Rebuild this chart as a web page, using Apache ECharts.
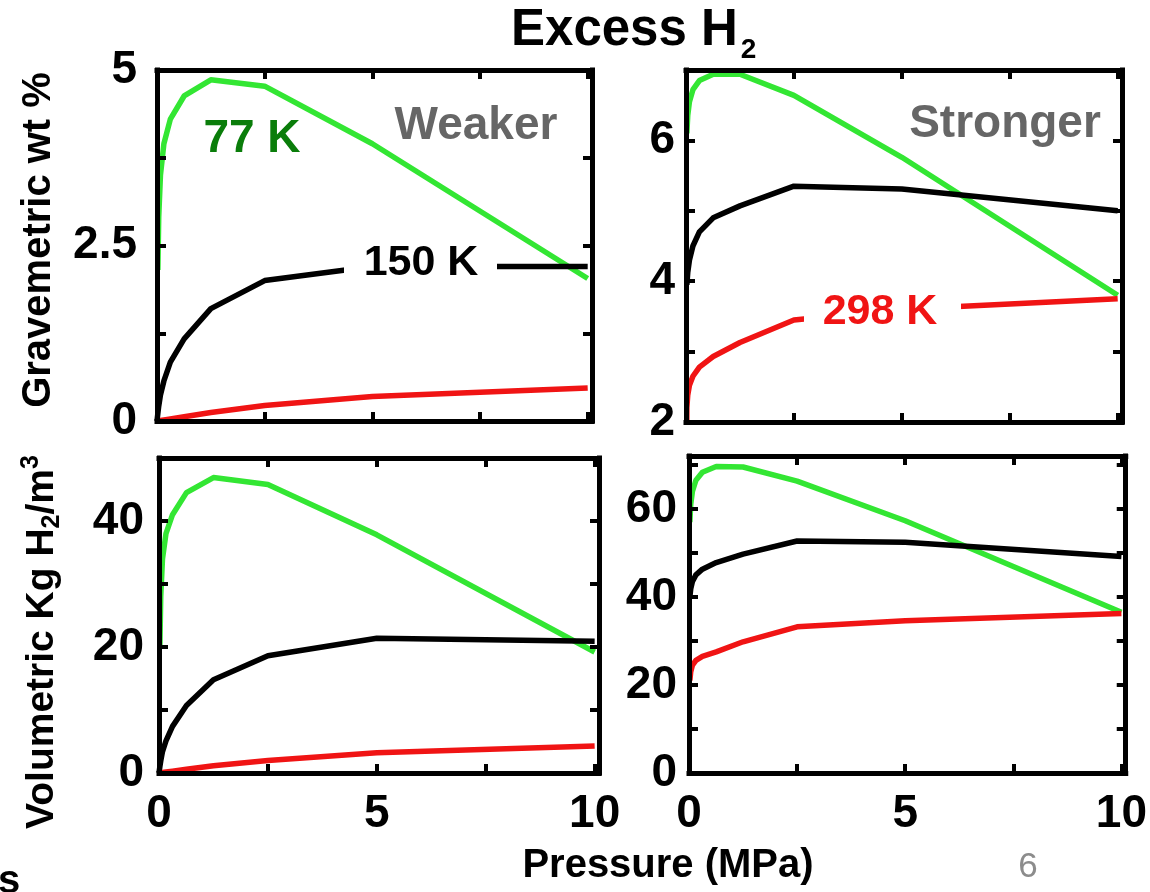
<!DOCTYPE html>
<html>
<head>
<meta charset="utf-8">
<script src="https://cdn.jsdelivr.net/npm/echarts@6/dist/echarts.min.js"></script>
<style>
  html, body { margin: 0; padding: 0; background: #fff; }
  #chart { width: 1150px; height: 892px; }
</style>
</head>
<body>
<div id="chart"></div>
<script>
// Pressure grid (MPa) shared by every isotherm
const pressure = [0, 0.02, 0.04, 0.08, 0.16, 0.31, 0.63, 1.25, 2.5, 5, 10];

// Gravimetric excess uptake (wt %), weaker-binding framework
const gravWeak77  = [null, 2.15, 2.9, 3.5, 3.95, 4.3, 4.63, 4.86, 4.77, 3.95, 2.03];
const gravWeak150 = [0, 0.11, 0.21, 0.37, 0.57, 0.84, 1.17, 1.6, 2.0, 2.2, 2.2];
const gravWeak298 = [0, 0.002, 0.004, 0.008, 0.015, 0.03, 0.06, 0.12, 0.22, 0.35, 0.47];

// Gravimetric excess uptake (wt %), stronger-binding framework
const gravStrong77  = [null, 6.1, 6.35, 6.55, 6.72, 6.85, 6.94, 6.94, 6.64, 5.76, 3.8];
const gravStrong150 = [null, 3.95, 4.12, 4.3, 4.5, 4.7, 4.9, 5.07, 5.35, 5.31, 5.0];
const gravStrong298 = [0, 2.2, 2.38, 2.52, 2.65, 2.78, 2.93, 3.13, 3.45, 3.6, 3.75];

// Volumetric excess uptake (kg H2 / m3), weaker-binding framework
const volWeak77  = [null, 20, 28, 34, 38, 41, 44.5, 46.9, 45.8, 37.8, 19.2];
const volWeak150 = [0, 1.0, 1.9, 3.4, 5.1, 7.4, 10.7, 14.8, 18.6, 21.4, 20.9];
const volWeak298 = [0, 0.02, 0.04, 0.08, 0.15, 0.3, 0.6, 1.15, 2.0, 3.2, 4.3];

// Volumetric excess uptake (kg H2 / m3), stronger-binding framework
const volStrong77  = [null, 57, 61, 64, 66.5, 68.3, 69.6, 69.5, 66.3, 57.3, 36.5];
const volStrong150 = [null, 40, 41.8, 43.5, 45, 46.3, 47.8, 49.7, 52.7, 52.4, 49.2];
const volStrong298 = [null, 21, 23, 24.5, 25.6, 26.5, 27.5, 29.8, 33.2, 34.6, 36.2];

// Labelled tick values
const pressureTicks   = [0, 5, 10];
const gravWeakTicks   = [0, 2.5, 5];
const gravStrongTicks = [2, 4, 6];
const volWeakTicks    = [0, 20, 40];
const volStrongTicks  = [0, 20, 40, 60];

const FONT = '"Liberation Sans", Arial, Helvetica, sans-serif';
const LINE_COLORS = ['#33e633', '#000000', '#f01414'];
const X_MAX = 10.1;

const panels = [
  { left: 157, top: 70,  width: 435, height: 351, yMin: 0, yMax: 5,  yStep: 1.25, yTicks: gravWeakTicks,   yMargin: 20, xTicks: null,
    lines: [gravWeak77, gravWeak150, gravWeak298] },
  { left: 686, top: 70,  width: 436, height: 352, yMin: 2, yMax: 7,  yStep: 1,    yTicks: gravStrongTicks, yMargin: 11, xTicks: null,
    lines: [gravStrong77, gravStrong150, gravStrong298] },
  { left: 159, top: 458, width: 440, height: 315, yMin: 0, yMax: 50, yStep: 10,   yTicks: volWeakTicks,    yMargin: 15, xTicks: pressureTicks,
    lines: [volWeak77, volWeak150, volWeak298] },
  { left: 689, top: 456, width: 442, height: 317, yMin: 0, yMax: 72, yStep: 10,   yTicks: volStrongTicks,  yMargin: 12, xTicks: pressureTicks,
    lines: [volStrong77, volStrong150, volStrong298] }
];

const tickFont = { color: '#000', fontSize: 46, fontWeight: 'bold', fontFamily: FONT };
const frameLine = { color: '#000', width: 5, cap: 'square' };
const innerTick = { show: true, inside: true, length: 9, lineStyle: { color: '#000', width: 4 } };

const grids = [], xAxes = [], yAxes = [], series = [];

panels.forEach((p, i) => {
  grids.push({ left: p.left, top: p.top, width: p.width, height: p.height });

  const xCommon = {
    type: 'value', gridIndex: i, min: 0, max: X_MAX, interval: 2.5, z: 10,
    axisLine: { show: true, onZero: false, lineStyle: frameLine },
    axisTick: innerTick, splitLine: { show: false }
  };
  xAxes.push(Object.assign({}, xCommon, {
    position: 'bottom',
    axisLabel: Object.assign({
      show: !!p.xTicks, margin: 18,
      formatter: v => (p.xTicks && p.xTicks.includes(v)) ? String(v) : ''
    }, tickFont)
  }));
  xAxes.push(Object.assign({}, xCommon, { position: 'top', axisLabel: { show: false } }));

  const yCommon = {
    type: 'value', gridIndex: i, min: p.yMin, max: p.yMax, interval: p.yStep, z: 10,
    axisLine: { show: true, onZero: false, lineStyle: frameLine },
    axisTick: innerTick, splitLine: { show: false }
  };
  yAxes.push(Object.assign({}, yCommon, {
    position: 'left',
    axisLabel: Object.assign({
      margin: p.yMargin,
      formatter: v => p.yTicks.includes(v) ? String(v) : ''
    }, tickFont)
  }));
  yAxes.push(Object.assign({}, yCommon, { position: 'right', axisLabel: { show: false } }));

  p.lines.forEach((vals, j) => {
    const data = [];
    vals.forEach((v, k) => { if (v !== null) data.push([pressure[k], v]); });
    series.push({
      type: 'line', xAxisIndex: 2 * i, yAxisIndex: 2 * i, data,
      symbol: 'none', showSymbol: false, clip: true, z: 3,
      lineStyle: { color: LINE_COLORS[j], width: 5.5, join: 'round' }
    });
  });
});

// Text measurement for multi-part labels (sub/superscripts)
const measureCtx = document.createElement('canvas').getContext('2d');
function textWidth(t, size, weight) {
  measureCtx.font = (weight || 'bold') + ' ' + size + 'px ' + FONT;
  return measureCtx.measureText(t).width;
}

function label(text, x, y, size, color, opts) {
  opts = opts || {};
  return {
    type: 'text', x, y, z: 120,
    style: {
      text, fill: color,
      font: (opts.weight || 'bold') + ' ' + size + 'px ' + FONT,
      align: opts.align || 'center', verticalAlign: 'middle'
    }
  };
}

// A run of text pieces laid end to end; dy shifts a piece for sub/superscript
function textRun(parts) {
  let total = 0;
  parts.forEach(pt => { pt.w = textWidth(pt.t, pt.size); total += pt.w; });
  let cursor = -total / 2;
  return parts.map(pt => {
    const el = label(pt.t, cursor, pt.dy || 0, pt.size, '#000', { align: 'left' });
    cursor += pt.w;
    return el;
  });
}

const titleMain = 'Excess H';
const titleLeft = 511;
const graphics = [
  // figure title with subscript
  label(titleMain, titleLeft, 31, 51, '#000', { align: 'left' }),
  label('2', titleLeft + textWidth(titleMain, 51) + 3, 50, 28, '#000', { align: 'left' }),

  // panel captions
  label('Weaker', 476, 126, 46, '#666666'),
  label('Stronger', 1005, 124, 46, '#666666'),

  // isotherm labels (white boxes interrupt the curves)
  label('77 K', 252, 139, 46, '#0a7d0a'),
  { type: 'rect', z: 110, shape: { x: 344, y: 246, width: 153, height: 36 }, style: { fill: '#fff' } },
  label('150 K', 421, 263, 43, '#000'),
  { type: 'rect', z: 110, shape: { x: 804, y: 294, width: 157, height: 38 }, style: { fill: '#fff' } },
  label('298 K', 880, 312, 43, '#f01414'),

  // axis titles
  label('Pressure (MPa)', 668, 866, 40, '#000'),
  {
    type: 'group', x: 39, y: 240, rotation: Math.PI / 2,
    children: [label('Gravemetric wt %', 0, 0, 40, '#000')]
  },
  {
    type: 'group', x: 42, y: 642, rotation: Math.PI / 2,
    children: textRun([
      { t: 'Volumetric Kg H', size: 39 },
      { t: '2', size: 25, dy: 10 },
      { t: '/m', size: 39 },
      { t: '3', size: 25, dy: -11 }
    ])
  },

  // slide page number and trailing fragment
  label('6', 1028, 867, 35, '#8c8c8c', { weight: 'normal' }),
  label('s', -2, 882, 40, '#000', { align: 'left' })
];

const chart = echarts.init(document.getElementById('chart'), null, { renderer: 'canvas' });
chart.setOption({
  animation: false,
  backgroundColor: '#fff',
  grid: grids,
  xAxis: xAxes,
  yAxis: yAxes,
  series,
  graphic: { elements: graphics }
});
</script>
</body>
</html>
